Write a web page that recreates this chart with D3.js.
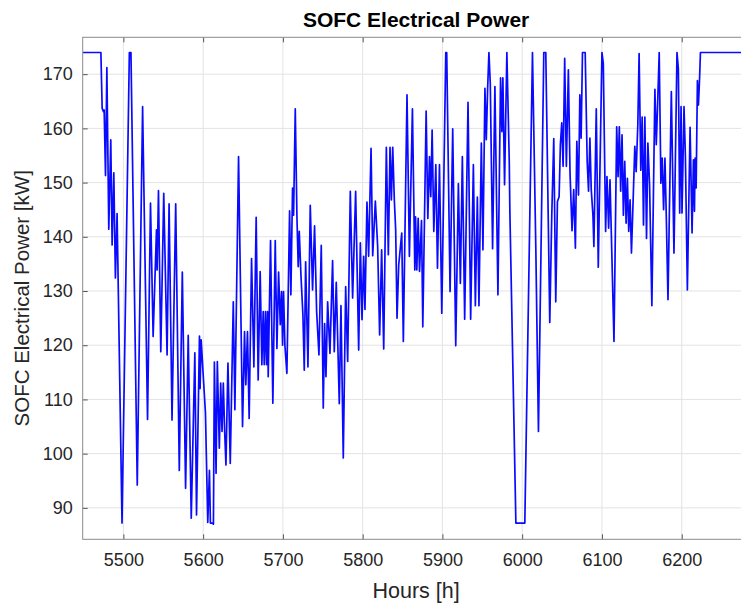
<!DOCTYPE html>
<html lang="en">
<head>
  <meta charset="UTF-8">
  <title>SOFC Electrical Power</title>
  <script src="https://d3js.org/d3.v7.min.js"></script>
  <style>
    body { margin: 0; background: #fff; }
    svg { display: block; font-family: "Liberation Sans", Arial, sans-serif; }
    .line { fill: none; stroke: #0a0aff; stroke-width: 1.7px; stroke-linejoin: round; }
    .grid line { stroke: #e3e3e3; stroke-width: 1px; }
    .axis text { fill: #262626; font-size: 18px; }
    .axis .domain { display: none; }
    .axis line { stroke: #555; }
  </style>
</head>
<body>
  <svg></svg>

  <script>
    // Data (hours, kW)
    const hours = [
      5449, 5471.8, 5473.4, 5475.1, 5475.9, 5477.6, 5479.3, 5481.7, 5484.2, 5485.9, 5488, 5490, 5492.1, 5498.3,
      5507.5, 5509.5, 5517.4, 5524.1, 5530.3, 5534, 5537.3, 5541.5, 5542.3, 5544, 5546.9, 5550.6, 5554.8, 5557.3,
      5561, 5565.6, 5570.1, 5573.9, 5578, 5581.3, 5585.1, 5589.6, 5591.7, 5595.4, 5596.2, 5597.5, 5602.9, 5605.8,
      5607.9, 5609.1, 5611.2, 5612.9, 5614.1, 5616.2, 5617.8, 5620.3, 5622, 5623.7, 5625.3, 5627, 5628.6, 5631.1,
      5634, 5637.8, 5639.8, 5644.4, 5649.4, 5651.9, 5653.5, 5655.6,
      5657.7, 5660.7, 5663.6, 5666.5, 5669, 5671.5, 5673.6, 5675.3, 5676.6, 5678.2, 5679.5, 5680.8, 5681.6, 5684.5,
      5687.4, 5690.4, 5692.5, 5694.6, 5696.7, 5698.3, 5699.6, 5700.8, 5702.5, 5705, 5708.4, 5710, 5712.1, 5713.4,
      5715.5, 5717.6, 5719.2, 5720.5, 5722.6, 5725.1, 5726.8, 5728.5, 5731.4, 5734.3, 5737.2, 5739.7, 5742.3, 5745.2,
      5748.1, 5750.6, 5752.3, 5754, 5756.1, 5759, 5762.3, 5764.4, 5766.9, 5770.7, 5772.8, 5775.7, 5778.7, 5781.2,
      5784.5, 5787.4, 5791.2, 5795, 5797.1, 5799.2, 5801.3, 5802.9, 5805.4, 5807.5, 5810.5, 5812.6, 5815.9, 5818.8,
      5821.3, 5823.8, 5826.4, 5829.7, 5832.2, 5834.3, 5836, 5837.7, 5839.7, 5841.4, 5843.1, 5845.2, 5849, 5851,
      5855.6, 5858.6, 5862.4,
      5865.4, 5866.3, 5867.9, 5869.6, 5871.3, 5873.8, 5875.4, 5879.6, 5881.7, 5883.8, 5885.4, 5887.1, 5889.2, 5891.7,
      5893.8, 5896.3, 5899.2, 5904.2, 5905.4, 5909.6, 5912.9, 5916.7, 5920, 5922.5, 5925, 5927.9, 5932.1, 5935.4,
      5938.8, 5941.3, 5943.8, 5945.8, 5948.8, 5950.8, 5953.3, 5955, 5956.7, 5958.3, 5960, 5962.9, 5965.8, 5969.6,
      5972.9, 5974.6, 5975.8, 5977.9, 5980.8, 5983.8, 5984.6, 5992.1, 6003.3, 6012.9, 6017.1, 6020.4, 6027.1, 6029.6,
      6034.6, 6037.1, 6039.6, 6042.1, 6044.2, 6046.3, 6047.9, 6049.6, 6051.3, 6053.3, 6055.4, 6057.9, 6060, 6062.5,
      6064.6, 6066.7,
      6068.5, 6070.6, 6072.3, 6073.9, 6075.6, 6079, 6081.5, 6083.2, 6084.9, 6086.6, 6088.7, 6089.9, 6092.9, 6095.4,
      6100, 6101.7, 6104.6, 6106.3, 6108.4, 6110.1, 6111.8, 6115.1, 6118.5, 6120.2, 6121.8, 6123.5, 6125.2, 6126.9,
      6128.6, 6130.3, 6131.9, 6133.6, 6135.3, 6137, 6139.1, 6141.2, 6142.9, 6145, 6146.6, 6148.7, 6150.4, 6152.1,
      6153.8, 6155.9, 6157.6, 6159.7, 6162.6, 6166.4, 6168.1, 6169.7, 6171.8, 6173.9, 6175.6, 6177.3, 6179, 6180.7,
      6182.8, 6187, 6190.3, 6194.1, 6195.8, 6197.5, 6199.2, 6200.4, 6202.9, 6204.6, 6207.1, 6210.5, 6213, 6214.7,
      6216, 6216.8, 6218.1, 6219.7, 6221, 6222.3, 6223.5, 6285
    ];

    const power = [
      174, 174, 163.7, 163.1, 163.4, 151.3, 171.2, 141.4, 157.9, 138.5, 151.8, 132.4, 144.3, 87.2,
      174, 174, 94.2, 164, 106.3, 146.2, 121.6, 141.3, 133.9, 148.5, 118.8, 148, 118.2, 146.1,
      106.2, 146.1, 96.9, 133.5, 93.6, 121.8, 88.1, 118.6, 88.7, 121.7, 112, 121, 107.5, 87.3,
      96.9, 87.2, 87.2, 87, 116.9, 96.4, 117, 101, 113, 104.1, 113, 104, 97.9, 116.7,
      98.2, 128, 108.1, 154.8, 105, 122.5, 112.7, 122.5,
      106.5, 136, 116, 143.6, 113.6, 133.6, 116.4, 126.2, 116.4, 126.2, 116.4, 126.2, 114.2, 139.3,
      109.3, 139.3, 119.4, 133.5, 123.8, 129.9, 120, 129.9, 120, 114.8, 144.8, 129.3, 149, 144,
      163.6, 143.7, 134.5, 141, 133, 125.6, 115.4, 135.4, 116, 145.8, 130.2, 142, 126.2, 118.2,
      138.4, 108.4, 124, 114.2, 128, 118.5, 135.6, 118.8, 131.6, 109.2, 127.3, 99.2, 130.8, 117,
      148.4, 128.7, 148.4, 119.1, 138.9, 124.7, 136.4, 126.6, 146.4, 136.4, 156.3, 136.5, 146.6, 138.2,
      121.9, 137.6, 119.3, 156.5, 136.7, 156.5, 146.8, 156.5, 146.8, 141.3, 125, 134.8, 140.7, 120.7,
      166.2, 136.4, 163.6,
      133.9, 143.7, 133.9, 143.4, 133.6, 143, 123.4, 163.2, 143.4, 154.8, 147.4, 159.7, 141, 153.3,
      134.2, 153.3, 125.9, 174, 174, 129.9, 159.9, 119.9, 149.8, 131.4, 154.8, 124.8, 164.8, 124.8,
      153.3, 127.3, 147.3, 127.3, 157.3, 137.6, 167.4, 157.9, 167.4, 174, 168.3, 137.8, 167.7, 129.3,
      169.3, 159.4, 169.3, 149.6, 174, 153.9, 144.4, 87.2, 87.2, 174, 137.9, 104.1, 174, 174,
      124.2, 144, 158.1, 128, 146.5, 147.4, 157, 161, 153, 172.9, 153, 170.8, 151.7, 141.1,
      148.7, 137.9,
      157.6, 147.7, 166.2, 158.2, 174, 174, 153.9, 148.4, 158.2, 148.7, 144, 138.2, 163.6, 134.4,
      174, 172, 141, 151.1, 141.6, 150.5, 140.4, 120.7, 160.3, 151.1, 160.3, 148.4, 158.8, 144,
      153.9, 142.5, 150.8, 141, 146.8, 137, 146.7, 156.7, 152, 160.8, 173.8, 152.3, 162.1, 142.2,
      162.1, 139.7, 157.3, 149.6, 127.3, 167.2, 157, 163.9, 174, 149.9, 154.5, 145, 154.5, 143.7,
      128.4, 166.8, 137, 174, 171, 144.4, 164, 144.4, 164, 155.1, 130.2, 160.2, 140.7, 154.2,
      144.7, 154.5, 149, 168.8, 164.3, 168.8, 174, 174
    ];

    const xTicks = [5500, 5600, 5700, 5800, 5900, 6000, 6100, 6200];
    const yTicks = [90, 100, 110, 120, 130, 140, 150, 160, 170];

    const width = 741, height = 605;
    // plot box (the right side runs just past the picture edge)
    const box = { left: 82.7, top: 37.3, right: 749.5, bottom: 539.3 };

    const svg = d3.select('svg')
      .attr('width', width)
      .attr('height', height);

    const x = d3.scaleLinear()
      .domain([5449, 6285])
      .range([box.left, box.right]);

    const y = d3.scaleLinear()
      .domain([84.2, 176.8])
      .range([box.bottom, box.top]);

    // grid
    const grid = svg.append('g').attr('class', 'grid');
    grid.selectAll('.gx').data(xTicks).join('line')
      .attr('x1', d => x(d)).attr('x2', d => x(d))
      .attr('y1', box.top).attr('y2', box.bottom);
    grid.selectAll('.gy').data(yTicks).join('line')
      .attr('class', 'gy')
      .attr('x1', box.left).attr('x2', box.right)
      .attr('y1', d => y(d)).attr('y2', d => y(d));

    // data line
    svg.append('clipPath').attr('id', 'clip')
      .append('rect')
      .attr('x', box.left).attr('y', box.top)
      .attr('width', box.right - box.left).attr('height', box.bottom - box.top);

    const line = d3.line()
      .x((d, i) => x(hours[i]))
      .y(d => y(d));

    svg.append('path')
      .attr('class', 'line')
      .attr('clip-path', 'url(#clip)')
      .attr('d', line(power));

    // axes, ticks pointing inward like MATLAB
    svg.append('g')
      .attr('class', 'axis')
      .attr('transform', `translate(0,${box.bottom})`)
      .call(d3.axisBottom(x).tickValues(xTicks).tickFormat(d3.format('d'))
        .tickSizeInner(-5).tickSizeOuter(0).tickPadding(14));

    svg.append('g')
      .attr('class', 'axis')
      .attr('transform', `translate(0,${box.top})`)
      .call(d3.axisTop(x).tickValues(xTicks).tickSizeInner(-5).tickSizeOuter(0).tickFormat(''));

    svg.append('g')
      .attr('class', 'axis')
      .attr('transform', `translate(${box.left},0)`)
      .call(d3.axisLeft(y).tickValues(yTicks).tickSizeInner(-5).tickSizeOuter(0).tickPadding(10));

    svg.append('rect')
      .attr('x', box.left).attr('y', box.top)
      .attr('width', box.right - box.left).attr('height', box.bottom - box.top)
      .attr('fill', 'none')
      .attr('stroke', '#8a8a8a')
      .attr('stroke-width', 1);

    // labels
    svg.append('text')
      .attr('x', (box.left + box.right) / 2)
      .attr('y', 27)
      .attr('text-anchor', 'middle')
      .attr('font-size', 21)
      .attr('font-weight', 'bold')
      .attr('fill', '#000')
      .text('SOFC Electrical Power');

    svg.append('text')
      .attr('x', (box.left + box.right) / 2)
      .attr('y', 598)
      .attr('text-anchor', 'middle')
      .attr('font-size', 21.5)
      .attr('fill', '#262626')
      .text('Hours [h]');

    svg.append('text')
      .attr('transform', `translate(29,${(box.top + box.bottom) / 2 + 10}) rotate(-90)`)
      .attr('text-anchor', 'middle')
      .attr('font-size', 20.5)
      .attr('fill', '#262626')
      .text('SOFC Electrical Power [kW]');
  </script>
</body>
</html>
